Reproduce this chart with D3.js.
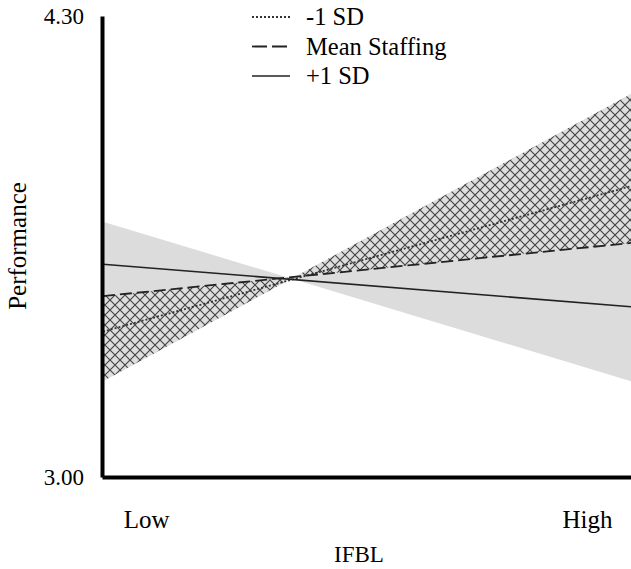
<!DOCTYPE html>
<html>
<head>
<meta charset="utf-8">
<script src="https://cdn.jsdelivr.net/npm/d3@7"></script>
<style>
  body { margin: 0; background: #fff; }
  svg { display: block; }
</style>
</head>
<body>
<svg id="chart"></svg>
<script>
// IFBL levels (x) and predicted Performance at each level
var levels = ["Low", "High"]
var minus1SD = [3.41, 3.82]
var meanStaffing = [3.51, 3.66]
var plus1SD = [3.60, 3.48]
// shaded region edges
var greyEdge = [3.72, 3.27]
var hatchEdge = [3.27, 4.08]
var yTicks = [3.00, 4.30]
var seriesNames = ["-1 SD", "Mean Staffing", "+1 SD"]

var serif = "'Liberation Serif', 'Times New Roman', Times, serif"
var width = 631, height = 569

var svg = d3.select("#chart")
            .attr("width", width)
            .attr("height", height)
            .style("font-family", serif)

var defs = svg.append("defs")
var pat = defs.append("pattern")
    .attr("id", "hatch")
    .attr("patternUnits", "userSpaceOnUse")
    .attr("width", 10)
    .attr("height", 10)
pat.append("rect").attr("width", 10).attr("height", 10).attr("fill", "#dedede")
pat.append("path")
   .attr("d", "M0,0L10,10M10,0L0,10")
   .attr("stroke", "#444")
   .attr("stroke-width", 1.15)
   .attr("fill", "none")

var xLeft = 103, xRight = 631

// continuous scale for the lines, point scale for the category labels
var xLine = d3.scaleLinear().domain([0, 1]).range([xLeft, xRight])
var xScale = d3.scalePoint().domain(levels).range([xLeft - 1, xRight]).padding(0.1)

var yScale = d3.scaleLinear().domain([3.00, 4.30]).range([477, 16])

function toPts(arr) {
    return arr.map((v, i) => ({ x: i / (arr.length - 1), y: v }))
}

// grey bow-tie between the two edges
var bandArea = d3.area()
    .x(d => xLine(d.x))
    .y0(d => yScale(d.y0))
    .y1(d => yScale(d.y1))

svg.append("path")
   .datum(levels.map((l, i) => ({ x: i, y0: greyEdge[i], y1: hatchEdge[i] })))
   .attr("d", bandArea)
   .attr("fill", "#dcdcdc")

svg.append("path")
   .datum(levels.map((l, i) => ({ x: i, y0: meanStaffing[i], y1: hatchEdge[i] })))
   .attr("d", bandArea)
   .attr("fill", "url(#hatch)")

var lineGen = d3.line()
    .x(d => xLine(d.x))
    .y(d => yScale(d.y))

var styles = [
    { data: minus1SD, dash: "2,2", width: 1.8, color: "#333" },
    { data: meanStaffing, dash: "12,5", width: 1.8, color: "#222" },
    { data: plus1SD, dash: null, width: 1.6, color: "#222" }
]

svg.selectAll(".series")
   .data(styles)
   .join("path")
   .attr("class", "series")
   .attr("d", d => lineGen(toPts(d.data)))
   .attr("fill", "none")
   .attr("stroke", d => d.color)
   .attr("stroke-width", d => d.width)
   .attr("stroke-dasharray", d => d.dash)

// axes
var yAxis = svg.append("g")
    .attr("transform", `translate(${xLeft - 1},0)`)
    .call(d3.axisLeft(yScale).tickValues(yTicks).tickFormat(d3.format(".2f")).tickSize(0).tickPadding(18))
yAxis.attr("font-family", serif).attr("font-size", 23)
yAxis.select(".domain").attr("stroke", "#000").attr("stroke-width", 4)

var xAxis = svg.append("g")
    .attr("transform", `translate(0,${yScale(3.00)})`)
    .call(d3.axisBottom(xScale).tickSize(0).tickPadding(33))
xAxis.attr("font-family", serif).attr("font-size", 25)
xAxis.select(".domain").attr("stroke", "#000").attr("stroke-width", 4)

// axis titles
svg.append("text")
   .attr("text-anchor", "middle")
   .attr("x", 359)
   .attr("y", 562)
   .style("font-size", "23px")
   .text("IFBL")

svg.append("text")
   .attr("text-anchor", "middle")
   .attr("transform", "translate(26,246) rotate(-90)")
   .style("font-size", "25px")
   .text("Performance")

// legend
var legend = svg.append("g").attr("transform", "translate(252,0)")
var rows = legend.selectAll("g")
    .data(styles)
    .join("g")
    .attr("transform", (d, i) => `translate(0,${17 + i * 29.5})`)

rows.append("line")
    .attr("x1", 0).attr("x2", 38)
    .attr("stroke", d => d.color)
    .attr("stroke-width", d => d.width)
    .attr("stroke-dasharray", (d, i) => i == 1 ? "15,5" : d.dash)

rows.append("text")
    .attr("x", 54)
    .attr("y", 8)
    .style("font-size", "24.5px")
    .style("font-family", serif)
    .text((d, i) => seriesNames[i])
</script>
</body>
</html>
